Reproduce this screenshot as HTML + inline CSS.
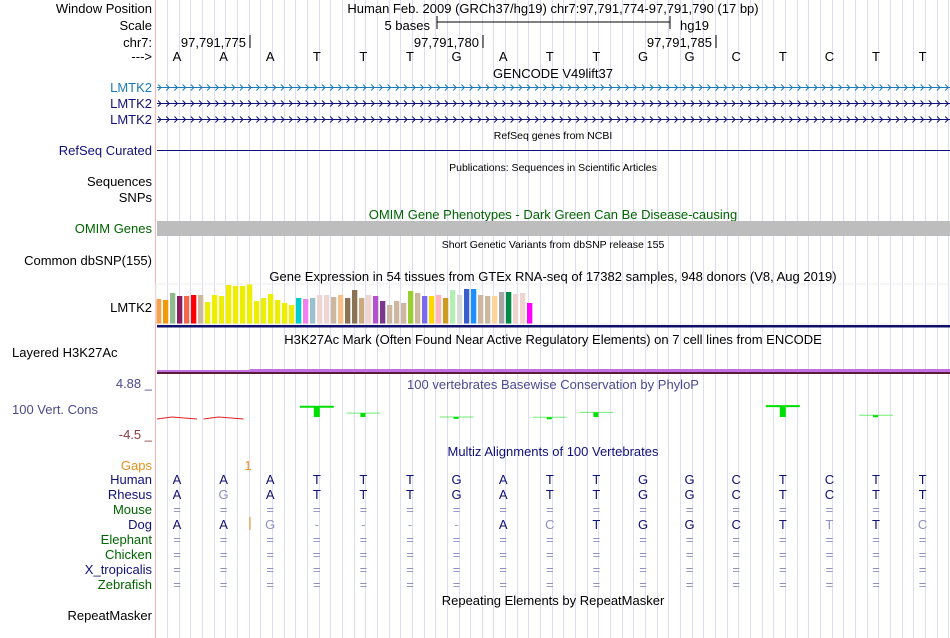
<!DOCTYPE html>
<html><head><meta charset="utf-8"><style>
html,body{margin:0;padding:0;background:#fff;}
svg{display:block;font-family:"Liberation Sans",sans-serif;}
</style></head><body>
<svg id="c" width="950" height="638" viewBox="0 0 950 638">
<g id="grid"></g>
<line x1="155.5" y1="0" x2="155.5" y2="638" stroke="#ffb4b4" stroke-width="1"/>
<g font-size="13" fill="#000" text-anchor="end">
<text x="152" y="13">Window Position</text>
<text x="152" y="30">Scale</text>
<text x="152" y="47">chr7:</text>
<text x="152" y="61">---&gt;</text>
<text x="152" y="92" fill="#1a7ab8">LMTK2</text>
<text x="152" y="108" fill="#10107a">LMTK2</text>
<text x="152" y="124" fill="#10107a">LMTK2</text>
<text x="152" y="155" fill="#10107a">RefSeq Curated</text>
<text x="152" y="186">Sequences</text>
<text x="152" y="202">SNPs</text>
<text x="152" y="233" fill="#006400">OMIM Genes</text>
<text x="152" y="265">Common dbSNP(155)</text>
<text x="152" y="312">LMTK2</text>
<text x="152" y="388" fill="#4a4a90">4.88 _</text>
<text x="152" y="439" fill="#8b3a3a">-4.5 _</text>
<text x="152" y="470" fill="#e8901a">Gaps</text>
<text x="152" y="620">RepeatMasker</text>
</g>
<text x="12" y="357" font-size="13">Layered H3K27Ac</text>
<text x="12" y="414" font-size="13" fill="#4a4a90">100 Vert. Cons</text>
<g id="species" font-size="13" text-anchor="end"></g>

<g font-size="13" text-anchor="middle">
<text x="553" y="13">Human Feb. 2009 (GRCh37/hg19)   chr7:97,791,774-97,791,790 (17 bp)</text>
<text x="553" y="78">GENCODE V49lift37</text>
<text x="553" y="219" fill="#006400">OMIM Gene Phenotypes - Dark Green Can Be Disease-causing</text>
<text x="553" y="281">Gene Expression in 54 tissues from GTEx RNA-seq of 17382 samples, 948 donors (V8, Aug 2019)</text>
<text x="553" y="344">H3K27Ac Mark (Often Found Near Active Regulatory Elements) on 7 cell lines from ENCODE</text>
<text x="553" y="389" fill="#4a4a90">100 vertebrates Basewise Conservation by PhyloP</text>
<text x="553" y="456" fill="#10107a">Multiz Alignments of 100 Vertebrates</text>
<text x="553" y="605">Repeating Elements by RepeatMasker</text>
</g>
<g font-size="10.5" text-anchor="middle">
<text x="553" y="139">RefSeq genes from NCBI</text>
<text x="553" y="171">Publications: Sequences in Scientific Articles</text>
<text x="553" y="248">Short Genetic Variants from dbSNP release 155</text>
</g>
<g>
<text x="430" y="30" font-size="13" text-anchor="end">5 bases</text>
<line x1="437" y1="22" x2="670" y2="22" stroke="#000"/>
<line x1="437" y1="16" x2="437" y2="29" stroke="#000"/>
<line x1="670" y1="16" x2="670" y2="29" stroke="#000"/>
<text x="680" y="30" font-size="13">hg19</text>
</g>
<g font-size="13" text-anchor="end">
<text x="246" y="47">97,791,775</text><line x1="250" y1="35" x2="250" y2="48" stroke="#000"/>
<text x="479" y="47">97,791,780</text><line x1="483" y1="35" x2="483" y2="48" stroke="#000"/>
<text x="712" y="47">97,791,785</text><line x1="716" y1="35" x2="716" y2="48" stroke="#000"/>
</g>
<g id="bases" font-size="13" text-anchor="middle"></g>
<g id="genes"></g>
<line x1="157" y1="150.5" x2="950" y2="150.5" stroke="#10107a"/>
<rect x="157" y="221" width="793" height="15" fill="#bdbdbd"/>
<g id="gtex"></g>
<rect x="157" y="325" width="793" height="2.5" fill="#10106a"/>
<rect x="157" y="371" width="793" height="3" fill="#5a1a3a"/>
<rect x="157" y="370" width="93" height="2" fill="#c070e0"/>
<rect x="250" y="369" width="700" height="3" fill="#c070e0"/>
<g id="cons"></g>
<text x="248" y="470" font-size="13" fill="#e8901a" text-anchor="middle">1</text>
<g id="align" font-size="13" text-anchor="middle"></g>
<line x1="250" y1="517" x2="250" y2="530" stroke="#e8901a" stroke-width="1"/>
</svg>
<script>
const NS="http://www.w3.org/2000/svg";
const refBases="AAATTTGATTGGCTCTT".split("");
const gtexHeights=[25,24,31,28,28,29,29,22,29,28,39,38,38,40,23,26,30,24,21,19,26,25,26,29,29,27,29,26,34,26,29,28,23,19,23,21,33,31,28,28,29,26,34,29,35,35,29,28,28,32,32,30,31,21];
const gtexColors=["#f9a050","#f09a0a","#8fbc8f","#8b1c62","#ee6a50","#ff0000","#cdb79e","#eeee00","#eeee00","#eeee00","#eeee00","#eeee00","#eeee00","#eeee00","#eeee00","#eeee00","#eeee00","#eeee00","#eeee00","#eeee00","#00cdcd","#ee82ee","#9ac0cd","#eed5d2","#eed5d2","#cdb79e","#f4c28a","#8b7355","#8b7355","#cdaa7d","#eed5d2","#b452cd","#7a378b","#cdb79e","#cdb79e","#cdb79e","#9acd32","#cdb79e","#7b68ee","#ffd700","#ffb6c1","#cd9b1d","#b4eeb4","#d9d9d9","#3a5fcd","#1e90ff","#cdb79e","#cdb79e","#ffd39b","#a6a6a6","#008b45","#eed5d2","#eed5d2","#ff00ff"];
const phylopScores=[-0.3,-0.2,0,1.6,0.7,0,0.15,0,0.1,0.8,0,0,0,1.7,0,0.4,0];
const speciesNames=["Human","Rhesus","Mouse","Dog","Elephant","Chicken","X_tropicalis","Zebrafish"];
const speciesColors=["#10107a","#10107a","#006400","#10107a","#006400","#006400","#10107a","#006400"];
const alignRows=["AAATTTGATTGGCTCTT","AgATTTGATTGGCTCTT","=================","AAg----AcTGGCTtTc","=================","=================","=================","================="];

const baseX=i=>177+46.6*i;
const c=id=>document.getElementById(id);
function mk(tag,attrs,parent){const e=document.createElementNS(NS,tag);for(const k in attrs)e.setAttribute(k,attrs[k]);parent.appendChild(e);return e;}

for(let k=0;k<68;k++){const x=Math.round(167+11.66*k)+0.5;if(x>950)break;
 const l=mk("line",{x1:x,y1:0,x2:x,y2:638,stroke:"#dcdcf4","stroke-width":1},c("grid"));
 
 }

refBases.forEach((b,i)=>{const t=mk("text",{x:baseX(i),y:61},c("bases"));t.textContent=b;
 
 });

[[87,"#1a7ab8"],[103,"#10107a"],[119,"#10107a"]].forEach(([y,col])=>{
 const g=mk("g",{},c("genes"));
 
 
 mk("line",{x1:157,y1:y+0.5,x2:950,y2:y+0.5,stroke:col},g);
 let d="";for(let x=158;x<948;x+=8.2){d+=`M${x.toFixed(1)} ${y-2.5}L${(x+3).toFixed(1)} ${y+0.5}L${x.toFixed(1)} ${y+3.5}`;}
 mk("path",{d:d,stroke:col,fill:"none","stroke-width":1},g);
});

const gBase=324,gMax=40,gMaxVal=40;
gtexHeights.forEach((h,i)=>{const hh=h/gMaxVal*gMax;
 const r=mk("rect",{x:156+7*i,y:gBase-hh,width:5.3,height:hh,fill:gtexColors[i]},c("gtex"));
 
 });
mk("rect",{x:156,y:284,width:793,height:40,fill:"none",stroke:"#eee"},c("gtex"));

const zeroY=418,perUnit=7;
phylopScores.forEach((s,i)=>{if(s===0)return;const cx=baseX(i);
 if(s<0){const p=mk("path",{d:`M${cx-20} ${zeroY+1}L${cx-5} ${zeroY-1}L${cx+20} ${zeroY+1}`,stroke:"#e02020",fill:"none","stroke-width":1},c("cons"));
  
  return;}
 const y=zeroY-s*perUnit;const op=s>1?1:0.55;
 const l=mk("line",{x1:cx-17,y1:y,x2:cx+17,y2:y,stroke:"#00e000","stroke-width":s>1?2:1,opacity:op},c("cons"));
 
 
 const r=mk("rect",{x:cx-3,y:y,width:s>1?6:5,height:Math.max(2,zeroY-1-y),fill:"#00e000"},c("cons"));
 
 });

speciesNames.forEach((n,r)=>{const y=484+15*r;
 const t=mk("text",{x:152,y:y,fill:speciesColors[r]},c("species"));t.textContent=n;
 
 
 alignRows[r].split("").forEach((ch,i)=>{
  let txt=ch,fill="#10107a";
  if(ch==="=")fill="#9090c0";
  else if(ch==="-")fill="#a0a0c0";
  else if(ch===ch.toLowerCase()){txt=ch.toUpperCase();fill="#9090c0";}
  const a=mk("text",{x:baseX(i),y:y,fill:fill},c("align"));a.textContent=txt;
  
  });
});
</script>
</body></html>
